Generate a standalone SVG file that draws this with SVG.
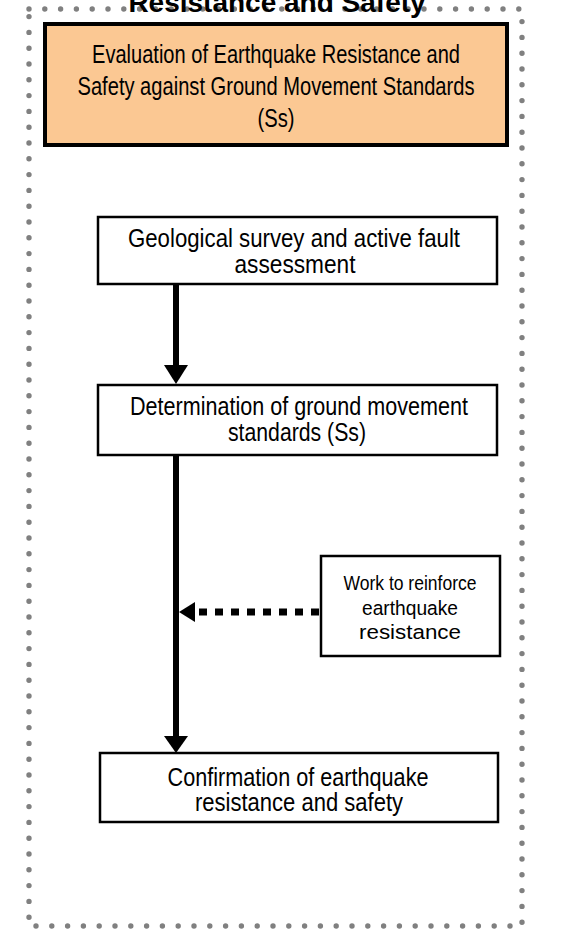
<svg xmlns="http://www.w3.org/2000/svg" width="563" height="931" viewBox="0 0 563 931">
<style>
.t{font-family:"Liberation Sans Narrow","Liberation Sans",Arial,sans-serif;fill:#000;text-anchor:middle}
.box{fill:#fff;stroke:#000;stroke-width:2.5}
.flow{stroke:#000;stroke-width:6;fill:none}
</style>
<rect x="29" y="9" width="493" height="917" fill="none" stroke="#808080" stroke-width="5.4" stroke-linecap="round" stroke-dasharray="0 15.8"/>
<text class="t" x="277" y="11.5" font-size="28" font-weight="bold" font-family="Liberation Sans, Arial, sans-serif">Resistance and Safety</text>
<g id="node-eval">
<rect x="45" y="24" width="462" height="121" fill="#fbc893" stroke="#000" stroke-width="4"/>
<text class="t" font-size="26.5"><tspan x="276" y="63" textLength="368" lengthAdjust="spacingAndGlyphs">Evaluation of Earthquake Resistance and</tspan><tspan x="276" y="95" textLength="397" lengthAdjust="spacingAndGlyphs">Safety against Ground Movement Standards</tspan><tspan x="276" y="127" textLength="37" lengthAdjust="spacingAndGlyphs">(Ss)</tspan></text>
</g>
<g id="node-geo">
<rect class="box" x="98" y="217" width="399" height="67"/>
<text class="t" font-size="26.5"><tspan x="294" y="247" textLength="332" lengthAdjust="spacingAndGlyphs">Geological survey and active fault</tspan><tspan x="295" y="273" textLength="121" lengthAdjust="spacingAndGlyphs">assessment</tspan></text>
</g>
<g id="node-ss">
<rect class="box" x="98" y="385" width="399" height="70"/>
<text class="t" font-size="26.5"><tspan x="299" y="415" textLength="338" lengthAdjust="spacingAndGlyphs">Determination of ground movement</tspan><tspan x="297" y="441" textLength="138" lengthAdjust="spacingAndGlyphs">standards (Ss)</tspan></text>
</g>
<g id="node-work">
<rect class="box" x="321" y="556" width="179" height="100"/>
<text class="t" font-size="20.5"><tspan x="410" y="590" textLength="133" lengthAdjust="spacingAndGlyphs">Work to reinforce</tspan><tspan x="410" y="615" textLength="96" lengthAdjust="spacingAndGlyphs">earthquake</tspan><tspan x="410" y="639" textLength="102" lengthAdjust="spacingAndGlyphs">resistance</tspan></text>
</g>
<g id="node-confirm">
<rect class="box" x="100" y="753" width="398" height="69"/>
<text class="t" font-size="26.5"><tspan x="298" y="786" textLength="261" lengthAdjust="spacingAndGlyphs">Confirmation of earthquake</tspan><tspan x="299" y="811" textLength="208" lengthAdjust="spacingAndGlyphs">resistance and safety</tspan></text>
</g>
<g id="connectors">
<line class="flow" x1="176" y1="284" x2="176" y2="367"/>
<polygon points="164,365 188,365 176,384"/>
<line class="flow" x1="176" y1="455" x2="176" y2="738"/>
<polygon points="164,736 188,736 176,753"/>
<line x1="319" y1="612" x2="195" y2="612" stroke="#000" stroke-width="7" stroke-dasharray="8 8"/>
<polygon points="179,612 195,602 195,622"/>
</g>
</svg>
